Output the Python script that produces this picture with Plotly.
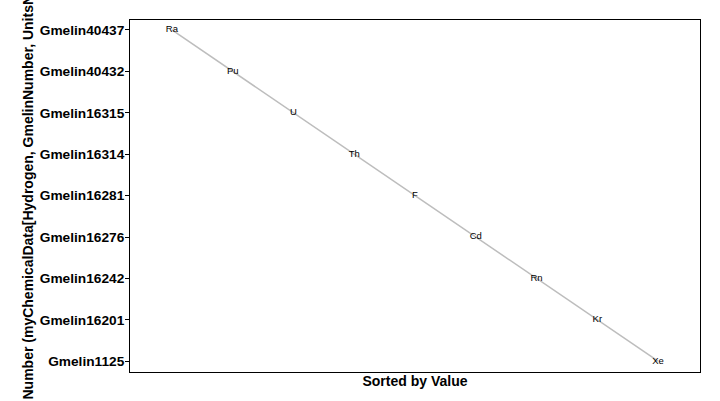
import plotly.graph_objects as go

# Data
elements = ["Ra", "Pu", "U", "Th", "F", "Cd", "Rn", "Kr", "Xe"]
gmelin = ["Gmelin40437", "Gmelin40432", "Gmelin16315", "Gmelin16314", "Gmelin16281",
          "Gmelin16276", "Gmelin16242", "Gmelin16201", "Gmelin1125"]
rank = [1, 2, 3, 4, 5, 6, 7, 8, 9]
category_order = ["Gmelin1125", "Gmelin16201", "Gmelin16242", "Gmelin16276", "Gmelin16281",
                  "Gmelin16314", "Gmelin16315", "Gmelin40432", "Gmelin40437"]

FONT = "Arial, Liberation Sans, sans-serif"

fig = go.Figure()
fig.add_trace(go.Scatter(
    x=rank, y=gmelin, mode="lines+text", text=elements,
    textposition="middle center",
    textfont=dict(family=FONT, size=9.5, color="black"),
    line=dict(color="#bdbdbd", width=1.5),
    cliponaxis=False, showlegend=False, hoverinfo="x+y+text",
))

fig.update_layout(
    width=720, height=401,
    margin=dict(l=130, r=20, t=20, b=29),
    paper_bgcolor="white", plot_bgcolor="white",
    font=dict(family=FONT, color="black"),
    xaxis=dict(range=[0.31, 9.69], showticklabels=False, ticks="", showgrid=False,
               zeroline=False, showline=True, linecolor="black", linewidth=1, mirror=True,
               automargin=False,
               title=dict(text="<b>Sorted by Value</b>", font=dict(size=14, family=FONT), standoff=4)),
    yaxis=dict(type="category", categoryorder="array", categoryarray=category_order,
               range=[-0.26, 8.24], ticks="outside", ticklen=4, tickcolor="black",
               showgrid=False, zeroline=False, showline=True, linecolor="black",
               linewidth=1, mirror=True, automargin=False, ticklabelstandoff=-2,
               tickfont=dict(size=13.7, family=FONT, weight="bold")),
    annotations=[dict(
        text="<b>Number (myChemicalData[Hydrogen, GmelinNumber, UnitsNone])</b>",
        textangle=-90, xref="paper", yref="paper", x=0, y=0,
        xanchor="center", yanchor="bottom", xshift=-103, yshift=-30,
        showarrow=False, font=dict(size=14, family=FONT, color="black"),
    )],
)

fig.write_html("out.html", config={"displayModeBar": False},
               post_script="document.body.style.margin='0';document.body.style.overflow='hidden';")
